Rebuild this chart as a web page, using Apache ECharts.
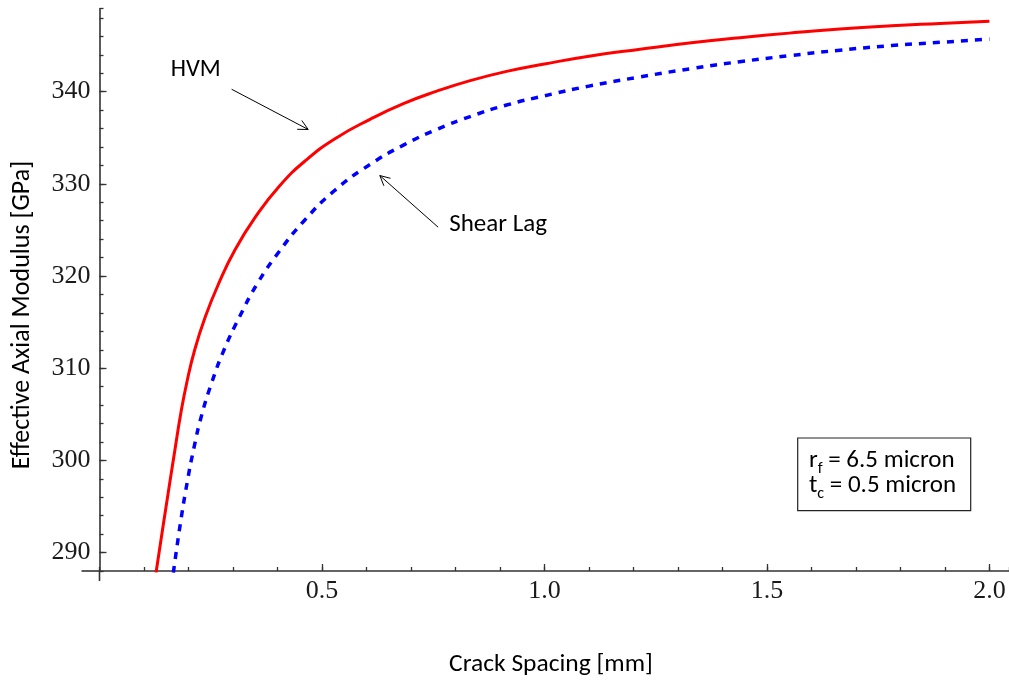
<!DOCTYPE html>
<html>
<head>
<meta charset="utf-8">
<script src="https://cdn.jsdelivr.net/npm/echarts@6/dist/echarts.min.js"></script>
<style>
  html, body { margin: 0; padding: 0; background: #fff; }
  #main { width: 1009px; height: 681px; }
</style>
</head>
<body>
<div id="main"></div>
<script>
// HVM curve (solid red)
const hvmX = [0.127, 0.143, 0.158, 0.170, 0.182, 0.196, 0.214, 0.238, 0.268, 0.304, 0.349, 0.405, 0.465, 0.533, 0.608, 0.683, 0.758, 0.833, 0.915, 1.0, 1.1, 1.215, 1.33, 1.439, 1.55, 1.664, 1.78, 1.889, 2.0];
const hvmY = [287.8, 292.9, 297.6, 301.3, 304.9, 308.4, 312.0, 315.6, 319.2, 322.8, 326.3, 329.8, 332.6, 335.0, 337.0, 338.7, 340.05, 341.2, 342.2, 343.0, 343.85, 344.6, 345.3, 345.85, 346.35, 346.8, 347.15, 347.4, 347.65];

// Shear lag curve (dashed blue)
const slX = [0.166, 0.181, 0.197, 0.212, 0.229, 0.252, 0.280, 0.315, 0.355, 0.403, 0.460, 0.529, 0.608, 0.683, 0.758, 0.833, 0.915, 1.0, 1.1, 1.215, 1.33, 1.439, 1.55, 1.664, 1.78, 1.889, 2.0];
const slY = [287.8, 292.9, 297.6, 301.3, 304.8, 308.4, 312.0, 315.6, 319.2, 322.6, 326.0, 329.3, 332.1, 334.2, 335.9, 337.3, 338.55, 339.55, 340.6, 341.6, 342.5, 343.25, 343.9, 344.5, 345.0, 345.35, 345.7];

const xMajorTicks = [0.5, 1.0, 1.5, 2.0];
const yMajorTicks = [290, 300, 310, 320, 330, 340];

// parameter box lines: [symbol, subscript, rest]
const boxLines = [['r', 'f', ' = 6.5 micron'], ['t', 'c', ' = 0.5 micron']];

const labelFont = '"Liberation Serif", "Times New Roman", serif';
const textFont = 'Carlito, "Open Sans", sans-serif';
const axisColor = '#333';

const zip = (xs, ys) => xs.map((x, i) => [x, ys[i]]);

const chart = echarts.init(document.getElementById('main'));

chart.setOption({
  animation: false,
  grid: { left: 99.5, right: 0, top: 8.7, bottom: 110 },
  xAxis: [
    {
      type: 'value', min: 0, max: 2.044, interval: 0.1,
      axisLine: { lineStyle: { color: axisColor, width: 1.6 } },
      axisTick: { inside: true, length: 4, lineStyle: { color: axisColor, width: 1.3 } },
      axisLabel: { show: false },
      splitLine: { show: false }
    },
    {
      type: 'value', min: 0, max: 2.044, position: 'bottom',
      axisLine: { show: false },
      axisTick: { inside: true, length: 7, customValues: xMajorTicks, lineStyle: { color: axisColor, width: 1.3 } },
      axisLabel: {
        customValues: xMajorTicks, formatter: v => v.toFixed(1),
        fontFamily: labelFont, fontSize: 26, color: '#1a1a1a', margin: 7
      },
      splitLine: { show: false }
    }
  ],
  yAxis: [
    {
      type: 'value', min: 288, max: 349, interval: 2,
      axisLine: { lineStyle: { color: axisColor, width: 1.6 } },
      axisTick: { inside: true, length: 4, lineStyle: { color: axisColor, width: 1.3 } },
      axisLabel: { show: false },
      splitLine: { show: false }
    },
    {
      type: 'value', min: 288, max: 349, position: 'left',
      axisLine: { show: false },
      axisTick: { inside: true, length: 7, customValues: yMajorTicks, lineStyle: { color: axisColor, width: 1.3 } },
      axisLabel: {
        customValues: yMajorTicks,
        fontFamily: labelFont, fontSize: 26, color: '#1a1a1a', margin: 9
      },
      splitLine: { show: false }
    }
  ],
  series: [
    {
      name: 'HVM', type: 'line', xAxisIndex: 0, yAxisIndex: 0,
      data: zip(hvmX, hvmY), smooth: 0.5,
      showSymbol: false, clip: true,
      lineStyle: { color: '#ff0000', width: 3 }
    },
    {
      name: 'Shear Lag', type: 'line', xAxisIndex: 0, yAxisIndex: 0,
      data: zip(slX, slY), smooth: 0.5,
      showSymbol: false, clip: true,
      lineStyle: { color: '#0000ff', width: 3.5, type: [7, 7], cap: 'butt' }
    }
  ]
});

// annotations, anchored to data coordinates
const px = p => chart.convertToPixel({ gridIndex: 0 }, p);

function arrow(from, to) {
  const p0 = px(from), p1 = px(to);
  const a = Math.atan2(p1[1] - p0[1], p1[0] - p0[0]);
  const L = 11, w = 0.47;
  const h1 = [p1[0] - L * Math.cos(a - w), p1[1] - L * Math.sin(a - w)];
  const h2 = [p1[0] - L * Math.cos(a + w), p1[1] - L * Math.sin(a + w)];
  return [
    { type: 'line', shape: { x1: p0[0], y1: p0[1], x2: p1[0], y2: p1[1] }, style: { stroke: '#000', lineWidth: 1 } },
    { type: 'polyline', shape: { points: [h1, p1, h2] }, style: { stroke: '#000', fill: null, lineWidth: 1 } }
  ];
}

function label(text, at, size) {
  const p = px(at);
  return {
    type: 'text', x: p[0], y: p[1],
    style: { text: text, fontFamily: textFont, fontSize: size, fill: '#000', align: 'left', verticalAlign: 'middle' }
  };
}

// text widths for placing subscripts
const ctx = document.createElement('canvas').getContext('2d');
function textWidth(t, size) {
  ctx.font = size + 'px ' + textFont;
  return ctx.measureText(t).width;
}

function boxText() {
  const out = [];
  const mainSize = 25, subSize = 16;
  boxLines.forEach((ln, i) => {
    const y = 460.5 + i * 25;
    let x = 809;
    const piece = (t, size, dy) => {
      out.push({
        type: 'text', x: x, y: y + dy,
        style: { text: t, fontFamily: textFont, fontSize: size, fill: '#000', align: 'left', verticalAlign: 'middle' }
      });
      x += textWidth(t, size);
    };
    piece(ln[0], mainSize, 0);
    piece(ln[1], subSize, 8);
    piece(ln[2], mainSize, 0);
  });
  return out;
}

const origin = px([0, 288]);

chart.setOption({
  graphic: [
    // axis stubs past the crossing point
    { type: 'line', shape: { x1: origin[0] - 18, y1: origin[1], x2: origin[0], y2: origin[1] }, style: { stroke: axisColor, lineWidth: 1.6 } },
    { type: 'line', shape: { x1: origin[0], y1: origin[1], x2: origin[0], y2: origin[1] + 10 }, style: { stroke: axisColor, lineWidth: 1.6 } },

    label('HVM', [0.160, 342.4], 24.5),
    ...arrow([0.297, 340.26], [0.469, 335.9]),
    label('Shear Lag', [0.786, 325.6], 25),
    ...arrow([0.761, 325.3], [0.630, 330.9]),

    // parameter box
    {
      type: 'rect', shape: { x: 797.7, y: 438, width: 173, height: 72.7 },
      style: { stroke: '#222', lineWidth: 1.2, fill: '#fff' }
    },
    ...boxText(),

    // axis titles
    {
      type: 'text', x: 551, y: 665,
      style: { text: 'Crack Spacing [mm]', fontFamily: textFont, fontSize: 25.5, fill: '#000', align: 'center', verticalAlign: 'middle' }
    },
    {
      type: 'text', x: 22, y: 315, rotation: Math.PI / 2,
      style: { text: 'Effective Axial Modulus [GPa]', fontFamily: textFont, fontSize: 26, fill: '#000', align: 'center', verticalAlign: 'middle' }
    }
  ]
});
</script>
</body>
</html>
